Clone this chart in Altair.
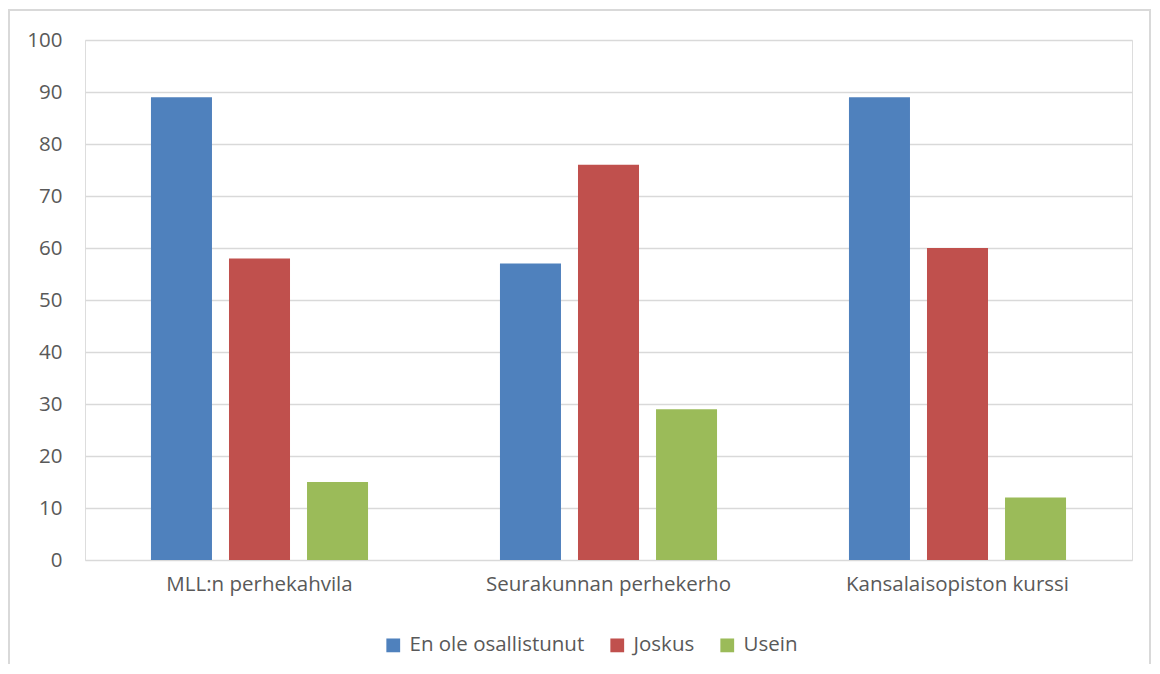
import altair as alt
import pandas as pd

categories = ["MLL:n perhekahvila", "Seurakunnan perhekerho", "Kansalaisopiston kurssi"]
series = ["En ole osallistunut", "Joskus", "Usein"]
en_ole = [89, 57, 89]
joskus = [58, 76, 60]
usein = [15, 29, 12]
colors = ["#4f81bd", "#c0504d", "#9bbb59"]
y_ticks = [0, 10, 20, 30, 40, 50, 60, 70, 80, 90, 100]

rows = []
for s, vals in zip(series, [en_ole, joskus, usein]):
    for c, v in zip(categories, vals):
        rows.append({"kategoria": c, "sarja": s, "arvo": v})
df = pd.DataFrame(rows)

FONT = "Open Sans"
TEXT = "#595959"
W, H = 1047, 520

bars = alt.Chart(df).mark_bar().encode(
    x=alt.X("kategoria:N", sort=categories, title=None,
            scale=alt.Scale(paddingInner=0.378, paddingOuter=0.189),
            axis=alt.Axis(labelAngle=0, labelFontSize=20.5, labelColor=TEXT, labelFont=FONT,
                          ticks=False, tickSize=0, domain=False, labelPadding=14,
                          labelLimit=0)),
    xOffset=alt.XOffset("sarja:N", sort=series,
                        scale=alt.Scale(paddingInner=0.218, paddingOuter=0)),
    y=alt.Y("arvo:Q", title=None,
            scale=alt.Scale(domain=[0, 100], nice=False),
            axis=alt.Axis(values=y_ticks, labelFontSize=20.5, labelColor=TEXT, labelFont=FONT,
                          ticks=False, tickSize=0, domain=False, labelPadding=23,
                          grid=True, gridColor="#d9d9d9", gridWidth=1.5)),
    color=alt.Color("sarja:N", sort=series, title=None,
                    scale=alt.Scale(domain=series, range=colors),
                    legend=alt.Legend(orient="none", direction="horizontal",
                                      legendX=298, legendY=595,
                                      symbolType="square", symbolSize=190,
                                      symbolStrokeWidth=0, labelFontSize=20.5,
                                      labelFont=FONT, labelColor=TEXT,
                                      labelOffset=6, columnPadding=22,
                                      labelLimit=0)),
)

frame = alt.Chart(pd.DataFrame({"a": [0]})).mark_rect(
    fill=None, stroke="#d9d9d9", strokeWidth=2
).encode(
    x=alt.value(-76), x2=alt.value(W + 18),
    y=alt.value(-30), y2=alt.value(H + 200),
)

chart = alt.layer(frame, bars).properties(
    width=W, height=H,
    autosize=alt.AutoSizeParams(type="none"),
    padding={"left": 77, "top": 32, "right": 20, "bottom": 104},
).configure_view(stroke=None).configure(background="white")

chart.save("out.html", embed_options={"renderer": "svg", "actions": False})
